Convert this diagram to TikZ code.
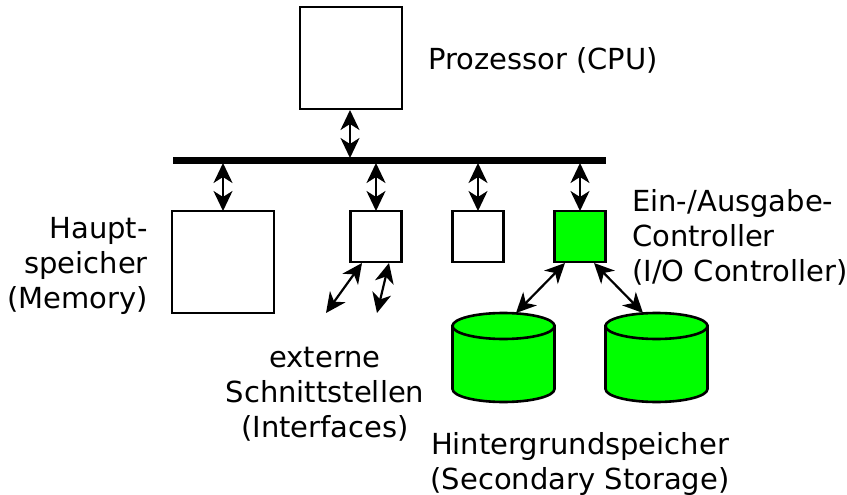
\documentclass[tikz,border=0pt]{standalone}
\usepackage{fontspec}
\setmainfont{DejaVu Sans}
\usetikzlibrary{arrows.meta}
\tikzset{
 boxw/.style={draw=black,line width=2.6pt,fill=white,minimum width=#1,minimum height=#1,inner sep=0,outer sep=0},
 dbl/.style={line width=2.2pt,{Stealth[length=20pt,width=19pt,inset=6pt]}-{Stealth[length=20pt,width=19pt,inset=6pt]}},
 lab/.style={font=\fontsize{29}{35}\selectfont,align=center,inner sep=0,text=black},
}
\begin{document}
\begin{tikzpicture}[x=1pt,y=-1pt]
\useasboundingbox (0,0) rectangle (847,495);
\fill[white] (0,0) rectangle (847,495);
\node[boxw=102pt] (cpu) at (351,58) {};
\node[boxw=102pt] (mem) at (223,262) {};
\node[boxw=51pt] (if1) at (376,236.5) {};
\node[boxw=51pt] (if2) at (478,236.5) {};
\node[boxw=51pt,fill=green] (io) at (580,236.5) {};
\draw[line width=7pt] (173,160) coordinate (busl) -- (606,160) coordinate (busr);
\coordinate (b0) at (350,158);
\coordinate (b1) at (223,163);
\coordinate (b2) at (376,163);
\coordinate (b3) at (478,163);
\coordinate (b4) at (580,163);
\coordinate (c0) at (350,110);
\draw[dbl] (c0) -- (b0);
\draw[dbl] (b1) -- (mem.north);
\draw[dbl] (b2) -- (if1.north);
\draw[dbl] (b3) -- (if2.north);
\draw[dbl] (b4) -- (io.north);
\coordinate (e1) at (326,313);
\coordinate (e2) at (377,313);
\coordinate (s1) at (362,263);
\coordinate (s2) at (389,263);
\draw[dbl] (s1) -- (e1);
\draw[dbl] (s2) -- (e2);
\foreach \n/\cx in {d1/503.5,d2/656.5}{
 \draw[fill=green,line width=2.6pt] (\cx-51,326) -- (\cx-51,389) arc[start angle=180,end angle=360,x radius=51,y radius=-13] -- (\cx+51,326) -- cycle;
 \draw[fill=green,line width=2.6pt] (\cx,326) ellipse[x radius=51,y radius=13];
 \coordinate (\n) at (\cx,313);
}
\coordinate (io1) at (565,263);
\coordinate (io2) at (594,263);
\coordinate (d1t) at (516,313);
\coordinate (d2t) at (643,313);
\draw[dbl] (io1) -- (d1t);
\draw[dbl] (io2) -- (d2t);
\node[lab,anchor=west] (t1) at (428,60) {Prozessor (CPU)};
\node[lab,align=right,anchor=east] (t2) at (148,266) {Haupt-\\speicher\\(Memory)};
\node[lab,align=left,anchor=west] (t3) at (632,237) {Ein-/Ausgabe-\\Controller\\(I/O Controller)};
\node[lab] (t4) at (325,394) {externe\\Schnittstellen\\(Interfaces)};
\node[lab] (t5) at (580,463.5) {Hintergrundspeicher\\(Secondary Storage)};
\end{tikzpicture}
\end{document}
